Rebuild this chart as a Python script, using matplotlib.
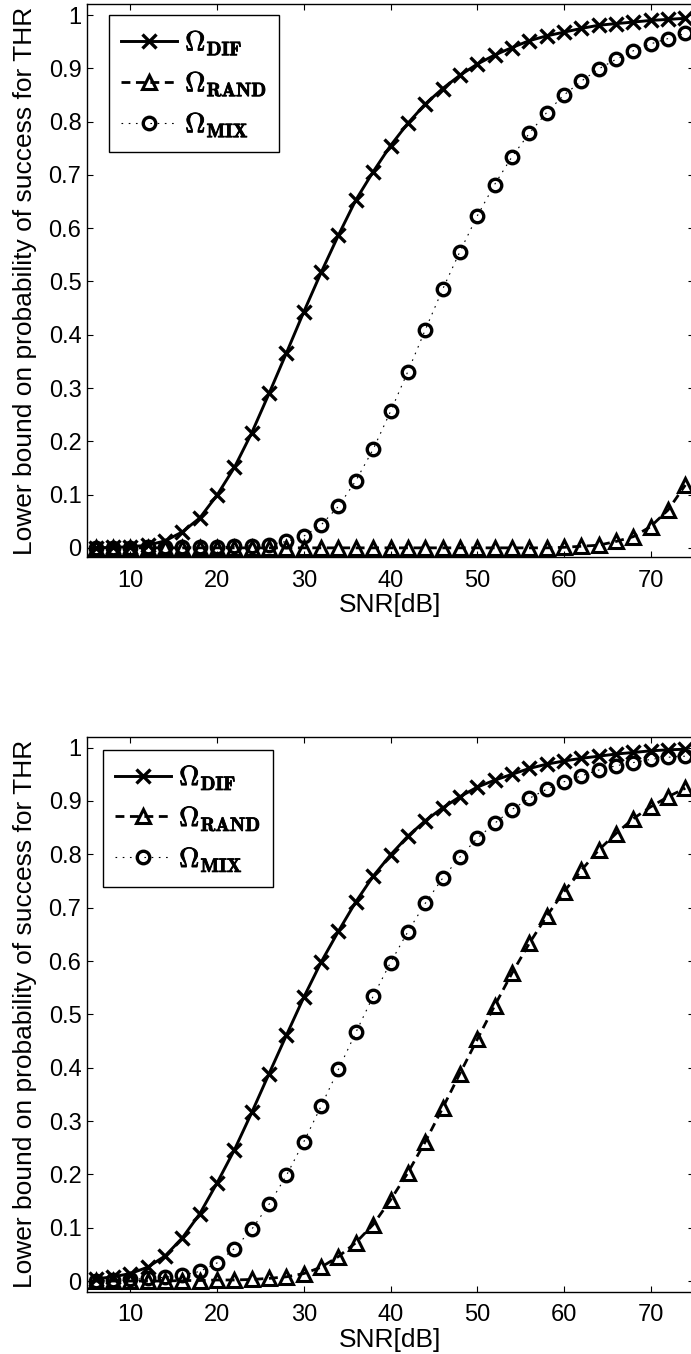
import numpy as np
import matplotlib
matplotlib.use("Agg")
import matplotlib.pyplot as plt
import matplotlib.patheffects as pe

plt.rcParams['font.family'] = ['Liberation Sans', 'DejaVu Sans']
plt.rcParams['mathtext.fontset'] = 'cm'

# SNR grid in dB
snr = np.arange(6, 76, 2)

# upper panel
dif_top = [0.000, 0.001, 0.002, 0.005, 0.013, 0.030, 0.056, 0.099, 0.151, 0.216,
           0.290, 0.366, 0.443, 0.517, 0.587, 0.653, 0.706, 0.755, 0.797, 0.833,
           0.862, 0.887, 0.908, 0.925, 0.939, 0.952, 0.961, 0.968, 0.975, 0.981,
           0.984, 0.987, 0.990, 0.992, 0.994]
rand_top = [0.000, 0.000, 0.000, 0.000, 0.000, 0.000, 0.000, 0.000, 0.000, 0.000,
            0.000, 0.000, 0.000, 0.000, 0.000, 0.000, 0.000, 0.000, 0.000, 0.000,
            0.000, 0.000, 0.000, 0.000, 0.000, 0.000, 0.000, 0.001, 0.003, 0.005,
            0.012, 0.021, 0.040, 0.071, 0.118]
mix_top = [0.000, 0.000, 0.000, 0.001, 0.001, 0.001, 0.002, 0.002, 0.003, 0.004,
           0.006, 0.012, 0.022, 0.043, 0.078, 0.126, 0.185, 0.256, 0.331, 0.409,
           0.485, 0.556, 0.623, 0.682, 0.734, 0.778, 0.817, 0.850, 0.876, 0.899,
           0.917, 0.933, 0.946, 0.956, 0.966]

# lower panel
dif_bot = [0.004, 0.008, 0.014, 0.026, 0.047, 0.081, 0.126, 0.184, 0.246, 0.316,
           0.389, 0.461, 0.532, 0.598, 0.656, 0.711, 0.759, 0.799, 0.834, 0.863,
           0.887, 0.908, 0.926, 0.939, 0.950, 0.961, 0.969, 0.975, 0.980, 0.984,
           0.988, 0.991, 0.994, 0.996, 0.997]
rand_bot = [0.000, 0.000, 0.000, 0.000, 0.000, 0.001, 0.001, 0.002, 0.002, 0.003,
            0.005, 0.008, 0.014, 0.026, 0.046, 0.072, 0.106, 0.152, 0.203, 0.261,
            0.324, 0.389, 0.453, 0.516, 0.577, 0.633, 0.684, 0.730, 0.770, 0.808,
            0.839, 0.867, 0.889, 0.908, 0.924]
mix_bot = [0.001, 0.002, 0.003, 0.005, 0.007, 0.011, 0.018, 0.034, 0.061, 0.097,
           0.144, 0.198, 0.261, 0.328, 0.397, 0.466, 0.534, 0.597, 0.655, 0.708,
           0.755, 0.795, 0.830, 0.858, 0.884, 0.905, 0.922, 0.936, 0.947, 0.958,
           0.966, 0.972, 0.978, 0.982, 0.984]

xticks = [10, 20, 30, 40, 50, 60, 70]
yticks = [0, 0.1, 0.2, 0.3, 0.4, 0.5, 0.6, 0.7, 0.8, 0.9, 1]
ytick_labels = ['0', '0.1', '0.2', '0.3', '0.4', '0.5', '0.6', '0.7', '0.8', '0.9', '1']

labels = [r'$\mathbf{\Omega_{DIF}}$', r'$\mathbf{\Omega_{RAND}}$', r'$\mathbf{\Omega_{MIX}}$']

fig = plt.figure(figsize=(6.91, 13.54), dpi=100)
ax1 = fig.add_axes([0.1259, 0.5883, 0.8785, 0.4088])
ax2 = fig.add_axes([0.1259, 0.0460, 0.8785, 0.4097])

panels = [
    (ax1, dif_top, rand_top, mix_top, (-0.018, 1.021), (0.036, 0.980)),
    (ax2, dif_bot, rand_bot, mix_bot, (-0.020, 1.020), (0.026, 0.977)),
]

for ax, d, r, m, ylim, leg_pos in panels:
    ax.plot(snr, d, color='k', linestyle='-', linewidth=2.1, marker='x',
            markersize=9.5, markeredgewidth=2.4, label=labels[0])
    ax.plot(snr, r, color='k', linestyle=(0, (3.2, 2.0)), linewidth=2.0, marker='^',
            markersize=10.5, markeredgewidth=2.2, fillstyle='none', label=labels[1])
    ax.plot(snr, m, color='k', linestyle=(0, (1.5, 5)), linewidth=0.8, marker='o',
            markersize=9, markeredgewidth=2.4, fillstyle='none', label=labels[2])
    ax.set_xlim(5, 75)
    ax.set_ylim(*ylim)
    ax.set_xticks(xticks)
    ax.set_yticks(yticks)
    ax.set_yticklabels(ytick_labels)
    ax.tick_params(direction='in', top=True, right=True, length=4.5, width=0.8,
                   labelsize=17)
    ax.tick_params(axis='x', pad=9)
    ax.tick_params(axis='y', pad=4)
    for sp in ax.spines.values():
        sp.set_linewidth(1.0)
    ax.set_xlabel('SNR[dB]', fontsize=19, labelpad=1)
    ax.set_ylabel('Lower bound on probability of success for THR', fontsize=19, labelpad=8)
    leg = ax.legend(loc='upper left', bbox_to_anchor=leg_pos, fontsize=20,
                    handlelength=2.0, handletextpad=0.3, borderpad=0.45,
                    labelspacing=0.4, fancybox=False, framealpha=1,
                    edgecolor='k', borderaxespad=0)
    leg.get_frame().set_linewidth(1.0)
    # the omegas are bold in the original
    for t in leg.get_texts():
        t.set_path_effects([pe.withStroke(linewidth=0.6, foreground='k')])

fig.savefig('out.png', dpi=100)
